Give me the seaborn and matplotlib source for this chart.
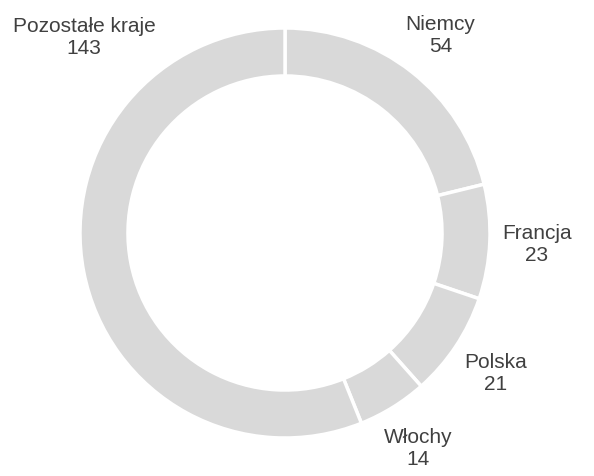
import numpy as np
import matplotlib
matplotlib.use("Agg")
import matplotlib.pyplot as plt
import seaborn as sns

countries = ["Niemcy", "Francja", "Polska", "Włochy", "Pozostałe kraje"]
counts = [54, 23, 21, 14, 143]

sns.set_theme(style="white")
plt.rcParams["font.family"] = ["Liberation Sans", "DejaVu Sans"]

fig = plt.figure(figsize=(5.94, 4.77), dpi=100)
ax = fig.add_axes([0, 0, 1, 1])

ring = "#d9d9d9"
txt = "#404040"

wedges, _ = ax.pie(
    counts,
    startangle=90,
    counterclock=False,
    colors=[ring] * len(counts),
    radius=1.0,
    wedgeprops=dict(width=0.234, edgecolor="white", linewidth=2.5),
)

# labels outside the ring at the wedge midpoints
total = sum(counts)
cum = np.cumsum([0] + counts[:-1])
for i, (name, val) in enumerate(zip(countries, counts)):
    mid = np.deg2rad(90 - (cum[i] + val / 2) / total * 360)
    if name == "Pozostałe kraje":
        x, y = -0.98, 0.96
    else:
        x, y = 1.23 * np.cos(mid), 1.23 * np.sin(mid)
    ax.text(x, y, f"{name}\n{val}", ha="center", va="center",
            fontsize=15, color=txt, linespacing=1.2)

ax.set_xlim(-285 / 205, (594 - 285) / 205)
ax.set_ylim(-243 / 205, 234 / 205)
ax.set_aspect("equal")
ax.axis("off")

fig.savefig("out.png", dpi=100)
